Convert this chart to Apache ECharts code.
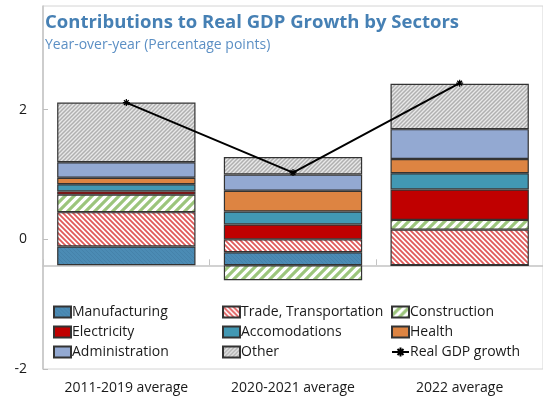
<!DOCTYPE html>
<html>
<head>
<meta charset="utf-8">
<script src="https://cdn.jsdelivr.net/npm/echarts@6/dist/echarts.min.js"></script>
<style>
  html, body { margin: 0; padding: 0; background: #fff; }
  #chart { width: 543px; height: 403px; }
</style>
</head>
<body>
<div id="chart"></div>
<script>
// Period categories
const periods = ['2011-2019 average', '2020-2021 average', '2022 average'];

// Sector contributions (percentage points)
const manufacturing = [0.29, 0.20, 0.00];
const trade = [0.53, 0.20, 0.55];
const construction = [0.27, -0.23, 0.15];
const electricity = [0.05, 0.23, 0.47];
const accomodations = [0.11, 0.20, 0.25];
const health = [0.10, 0.32, 0.22];
const administration = [0.24, 0.25, 0.46];
const other = [0.92, 0.27, 0.70];

// Real GDP growth (percent)
const gdpGrowth = [2.51, 1.43, 2.81];

// Left axis tick labels
const yTicks = [-2, 0, 2];

const FONT = '"Open Sans", "Noto Sans", sans-serif';

// Diagonal stripe fill built on a small tiling canvas
function stripes(fg, bg, size, width, dir) {
  const c = document.createElement('canvas');
  c.width = size; c.height = size;
  const ctx = c.getContext('2d');
  ctx.fillStyle = bg;
  ctx.fillRect(0, 0, size, size);
  ctx.strokeStyle = fg;
  ctx.lineWidth = width;
  ctx.lineCap = 'square';
  const segs = dir === '/'
    ? [[0, size, size, 0], [-size, size, size, -size], [0, 2 * size, 2 * size, 0]]
    : [[0, 0, size, size], [-size, 0, size, 2 * size], [0, -size, 2 * size, size]];
  ctx.beginPath();
  segs.forEach(s => { ctx.moveTo(s[0], s[1]); ctx.lineTo(s[2], s[3]); });
  ctx.stroke();
  return { image: c, repeat: 'repeat' };
}

const fills = {
  manufacturing: stripes('#4582aa', '#4b8bb4', 4, 1, '\\'),
  trade: stripes('#e05a5a', '#ffffff', 5, 1.8, '\\'),
  construction: stripes('#9cc57c', '#ffffff', 9, 3.2, '/'),
  electricity: '#c00000',
  accomodations: '#4298b3',
  health: '#dd8442',
  administration: '#93a9d2',
  other: stripes('#b0b0b0', '#e8e8e8', 4, 1.5, '/')
};

const border = { borderColor: '#333333', borderWidth: 1.2 };

function barSeries(name, data, color) {
  return {
    name: name,
    type: 'bar',
    stack: 'sectors',
    yAxisIndex: 1,
    barWidth: '83%',
    data: data,
    itemStyle: Object.assign({ color: color }, border),
    emphasis: { disabled: true }
  };
}

// Asterisk marker for the growth line
const asterisk = 'path://M0,5L10,5M5,0L5,10M1.6,1.6L8.4,8.4M8.4,1.6L1.6,8.4';

const chart = echarts.init(document.getElementById('chart'), null, { renderer: 'canvas' });

const legendBase = {
  orient: 'vertical',
  top: 305,
  padding: 0,
  itemWidth: 17,
  itemHeight: 11,
  itemGap: 6,
  selectedMode: false,
  textStyle: { fontFamily: FONT, fontSize: 14, color: '#1a1a1a', lineHeight: 14, padding: [0, 0, 0, -4] }
};

const box = name => ({ name: name, icon: 'rect' });

chart.setOption({
  animation: false,
  title: [
    {
      text: 'Contributions to Real GDP Growth by Sectors',
      left: 40, top: 8,
      textStyle: { fontFamily: FONT, fontSize: 18.5, fontWeight: 'bold', color: '#4680b4' }
    },
    {
      text: 'Year-over-year (Percentage points)',
      left: 40, top: 33,
      textStyle: { fontFamily: FONT, fontSize: 14, fontWeight: 'normal', color: '#5b8fc4' }
    }
  ],
  legend: [
    Object.assign({ left: 53, data: [box('Manufacturing'), box('Electricity'), box('Administration')] }, legendBase),
    Object.assign({ left: 222, data: [box('Trade, Transportation'), box('Accomodations'), box('Other')] }, legendBase),
    Object.assign({ left: 391, data: [box('Construction'), box('Health'), { name: 'Real GDP growth' }] }, legendBase)
  ],
  grid: {
    left: 43, top: 6, width: 508, height: 363,
    show: true, borderColor: '#d4d4d4', borderWidth: 1
  },
  xAxis: [
    {
      type: 'category',
      data: periods,
      position: 'bottom',
      axisLine: { show: false, onZero: false },
      axisTick: { show: false },
      axisLabel: { fontFamily: FONT, fontSize: 14, color: '#1a1a1a', margin: 12 }
    },
    {
      type: 'category',
      data: periods,
      position: 'top',
      axisLine: { show: true, onZero: true, onZeroAxisIndex: 1, lineStyle: { color: '#c4c4c4', width: 1.5 } },
      axisTick: { show: true, inside: false, length: 6, lineStyle: { color: '#c4c4c4', width: 1 } },
      axisLabel: { show: false }
    }
  ],
  yAxis: [
    {
      type: 'value',
      min: -2, max: 3.6,
      position: 'left',
      splitLine: { show: false },
      axisLine: { show: true, lineStyle: { color: '#c4c4c4', width: 1.5 } },
      axisTick: { show: true, inside: true, length: 5, customValues: yTicks, lineStyle: { color: '#bdbdbd' } },
      axisLabel: { fontFamily: FONT, fontSize: 14, color: '#1a1a1a', margin: 16, customValues: yTicks }
    },
    {
      type: 'value',
      min: -1.6, max: 4.0,
      show: false,
      splitLine: { show: false }
    }
  ],
  series: [
    barSeries('Manufacturing', manufacturing, fills.manufacturing),
    barSeries('Trade, Transportation', trade, fills.trade),
    barSeries('Construction', construction, fills.construction),
    barSeries('Electricity', electricity, fills.electricity),
    barSeries('Accomodations', accomodations, fills.accomodations),
    barSeries('Health', health, fills.health),
    barSeries('Administration', administration, fills.administration),
    barSeries('Other', other, fills.other),
    {
      name: 'Real GDP growth',
      type: 'line',
      yAxisIndex: 1,
      data: gdpGrowth,
      z: 5,
      symbol: asterisk,
      symbolSize: 7,
      lineStyle: { color: '#000000', width: 2 },
      itemStyle: { color: '#000000', borderColor: '#000000', borderWidth: 1.2 },
      emphasis: { disabled: true }
    }
  ]
});
</script>
</body>
</html>
